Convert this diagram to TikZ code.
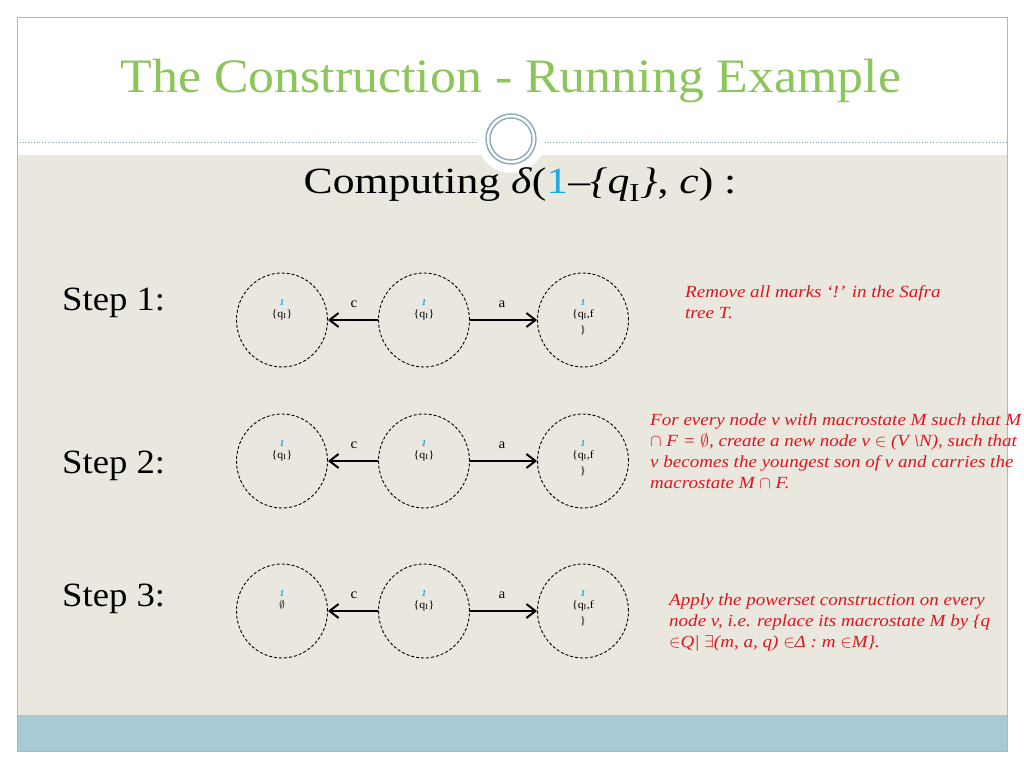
\documentclass[tikz,border=0pt]{standalone}
\usepackage{fontspec}
\setmainfont[FakeStretch=1.08]{Liberation Serif}
\newfontfamily\widefont[FakeStretch=1.18]{Liberation Serif}
\newfontfamily\notefont[FakeStretch=1.12]{Liberation Serif}
\usetikzlibrary{arrows.meta,shapes.geometric}
\definecolor{titlegreen}{RGB}{140,198,90}
\definecolor{bodybeige}{RGB}{233,231,222}
\definecolor{footblue}{RGB}{167,202,213}
\definecolor{framegray}{RGB}{160,188,200}
\definecolor{ringblue}{RGB}{140,170,185}
\definecolor{markblue}{RGB}{30,170,225}
\definecolor{notered}{RGB}{222,20,30}
\begin{document}
\begin{tikzpicture}[x=1bp,y=-1bp,
  stnode/.style={draw=black,ellipse,dashed,dash pattern=on 3bp off 2bp,line width=0.9bp,minimum width=91bp,minimum height=94bp,inner sep=0pt},
  trans/.style={line width=2bp,-{Straight Barb[length=9bp,width=14bp,line width=2bp]}},
  edgelab/.style={font=\fontsize{14bp}{16bp}\selectfont,anchor=base,inner sep=0pt},
  marktxt/.style={font=\fontsize{9bp}{10bp}\selectfont\bfseries\itshape,text=markblue,anchor=base,inner sep=0pt},
  macro/.style={font=\fontsize{11bp}{12bp}\selectfont,anchor=base,inner sep=0pt},
  steplab/.style={font=\fontsize{34bp}{40bp}\selectfont,anchor=base west,inner sep=0pt},
  redtxt/.style={font=\notefont\fontsize{17bp}{20bp}\selectfont\itshape,text=notered,anchor=base west,inner sep=0pt}]
\useasboundingbox (0,0) rectangle (1024,768);
\fill[white] (0,0) rectangle (1024,768);
% slide frame
\fill[bodybeige] (17,17) rectangle (1007,751);
\fill[white] (17,17) rectangle (1007,155);
\fill[footblue] (17,715) rectangle (1007,751);
\draw[framegray,line width=0.8bp] (17,17) rectangle (1007,751);
\draw[ringblue,dotted,line width=0.8bp] (17,142) -- (1007,142);
% ornament
\fill[white] (511,139) circle (34);
\draw[ringblue,line width=1.4bp] (511,139) circle (25);
\draw[ringblue,line width=1.4bp] (511,139) circle (21);
% titles
\node[font=\fontsize{48bp}{52bp}\selectfont,text=titlegreen,anchor=base,inner sep=0pt] (title) at (511,93) {The Construction - Running Example};
\node[font=\widefont\fontsize{37bp}{40bp}\selectfont,anchor=base,inner sep=0pt] (sub) at (520,193) {Computing \textit{δ}(\textcolor{markblue}{1}–\textit{\{q}\textsubscript{I}\textit{\}}, \textit{c}) :};
% step labels
\node[steplab] (s1) at (62,310) {Step 1:};
\node[steplab] (s2) at (62,473) {Step 2:};
\node[steplab] (s3) at (62,606) {Step 3:};
% rows of states
\foreach \r/\y in {1/320,2/461,3/611}{
  \node[stnode] (a\r) at (282,\y) {};
  \node[stnode] (b\r) at (424,\y) {};
  \node[stnode] (c\r) at (583,\y) {};
  \draw[trans] (b\r.west) -- (a\r.east);
  \draw[trans] (b\r.east) -- (c\r.west);
  \node[edgelab] (lc\r) at (354,\y-13) {c};
  \node[edgelab] (la\r) at (502,\y-13) {a};
  \node[marktxt] (ma\r) at (282,\y-15) {1};
  \node[marktxt] (mb\r) at (424,\y-15) {1};
  \node[marktxt] (mc\r) at (583,\y-15) {1};
  \node[macro] (qb\r) at (424,\y-3) {\{q\textsubscript{I}\}};
  \node[macro] (qc\r) at (583,\y-3) {\{q\textsubscript{I},f};
  \node[macro] (qd\r) at (583,\y+13) {\}};
}
\node[macro] (qa1) at (282,317) {\{q\textsubscript{I}\}};
\node[macro] (qa2) at (282,458) {\{q\textsubscript{I}\}};
\node[macro] (qa3) at (282,608) {$\emptyset$};
% notes
\node[redtxt] (n11) at (685,297) {Remove all marks ‘!’ in the Safra};
\node[redtxt] (n12) at (685,318) {tree T.};
\node[redtxt] (n21) at (650,425) {For every node v with macrostate M such that M};
\node[redtxt] (n22) at (650,446) {$\cap$ F = $\emptyset$, create a new node v $\in$ (V \textbackslash N), such that};
\node[redtxt] (n23) at (650,467) {v becomes the youngest son of v and carries the};
\node[redtxt] (n24) at (650,488) {macrostate M $\cap$ F.};
\node[redtxt] (n31) at (669,605) {Apply the powerset construction on every};
\node[redtxt] (n32) at (669,626) {node v, i.e. replace its macrostate M by \{q};
\node[redtxt] (n33) at (669,647) {$\in$Q| $\exists$(m, a, q) $\in$Δ : m $\in$M\}.};
\end{tikzpicture}
\end{document}
